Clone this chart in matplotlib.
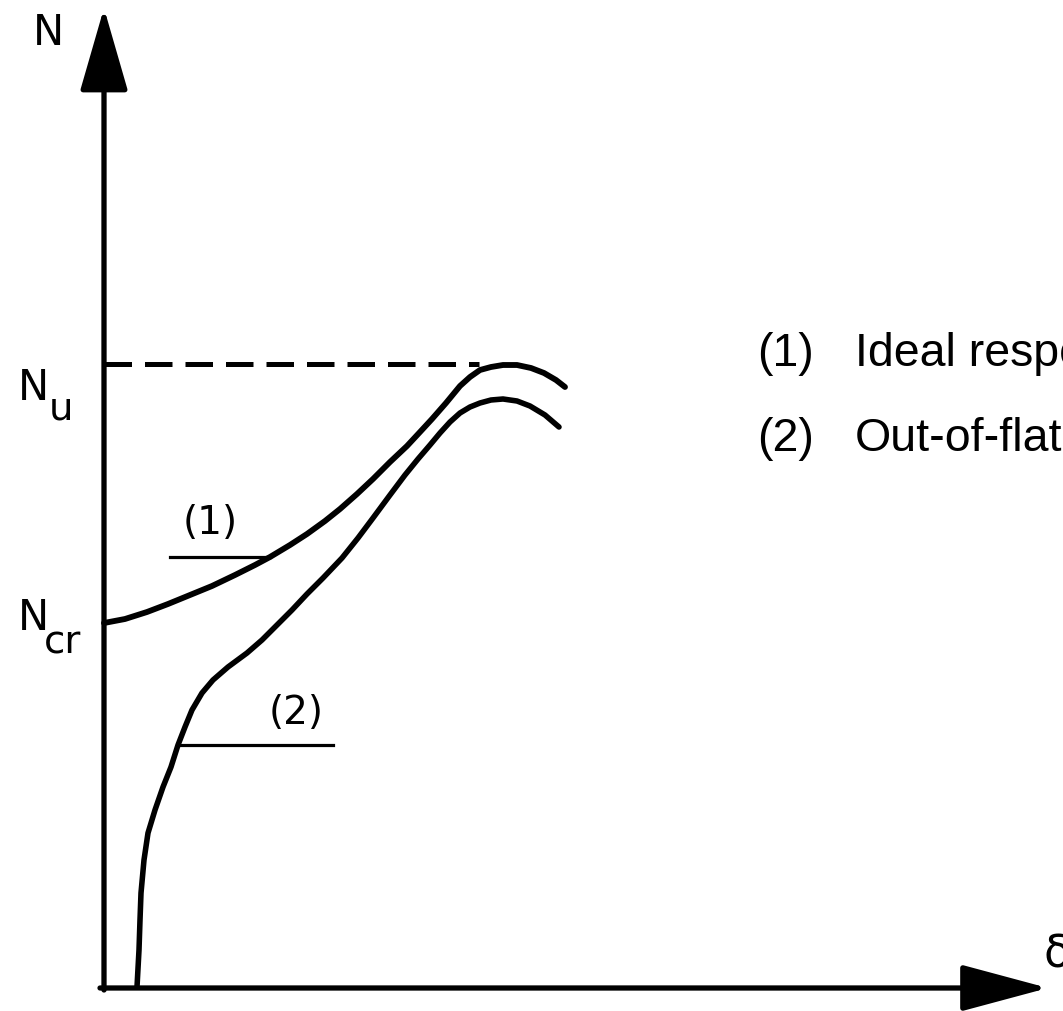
import matplotlib
matplotlib.use("Agg")
import matplotlib.pyplot as plt

# load-shortening sketch: axial load N against out-of-plane deflection delta
# coordinates are in drawing units with the origin at the axes corner
N_U = 624
N_CR = 365

ideal_delta = [0, 21, 43, 64, 86, 108, 131, 151, 166, 186, 203, 221, 236,
               253, 269, 286, 303, 316, 328, 342, 356, 366, 376, 387, 399,
               413, 427, 440, 452, 461]
ideal_n = [365, 369, 376, 384, 393, 402, 413, 423, 431, 443, 454, 467, 479,
           494, 509, 526, 542, 556, 569, 585, 602, 611, 618, 621, 623, 623,
           620, 615, 608, 601]

imperfect_delta = [33, 35, 36, 37, 40, 44, 51, 59, 67, 74, 81, 88, 98, 109,
                   124, 143, 158, 171, 188, 203, 219, 238, 254, 269, 286, 301,
                   314, 326, 336, 346, 356, 366, 376, 387, 399, 413, 426, 441,
                   455]
imperfect_n = [1, 38, 68, 95, 128, 155, 178, 201, 221, 243, 261, 278, 295,
               308, 321, 335, 348, 361, 378, 394, 410, 430, 450, 470, 493,
               513, 529, 543, 555, 566, 575, 581, 585, 588, 589, 587, 582,
               573, 561]

legend_items = ["(1)", "(2)"]
legend_texts = ["Ideal response", "Out-of-flatness"]

INK = "black"
sketch_font = "DejaVu Sans"
legend_font = "Liberation Sans"

fig = plt.figure(figsize=(10.63, 10.11), dpi=100)
ax = fig.add_axes([0, 0, 1, 1])
ax.set_xlim(-104, 959)
ax.set_ylim(-23, 988)
ax.axis("off")

# axes with filled arrowheads
ax.annotate("", xy=(0, 980), xytext=(0, -2),
            arrowprops=dict(arrowstyle="-|>,head_length=52,head_width=15",
                            mutation_scale=1, lw=3.8, color=INK,
                            shrinkA=0, shrinkB=0))
ax.annotate("", xy=(944, 0), xytext=(-4, 0),
            arrowprops=dict(arrowstyle="-|>,head_length=54,head_width=14.5",
                            mutation_scale=1, lw=3.8, color=INK,
                            shrinkA=0, shrinkB=0))

# ultimate load level
ax.plot([0, 375], [N_U, N_U], color=INK, lw=3.6, linestyle=(0, (5.5, 2.6)))

ax.plot(ideal_delta, ideal_n, color=INK, lw=4.2, solid_capstyle="round",
        solid_joinstyle="round")
ax.plot(imperfect_delta, imperfect_n, color=INK, lw=4.0,
        solid_capstyle="round", solid_joinstyle="round")

# leader lines for the curve labels
ax.plot([66, 166], [431, 431], color=INK, lw=2.3)
ax.plot([74, 229], [243, 243], color=INK, lw=2.3)
ax.text(106, 465, "(1)", fontsize=28, family=sketch_font, ha="center",
        va="center")
ax.text(192, 275, "(2)", fontsize=28, family=sketch_font, ha="center",
        va="center")

# axis labels
ax.text(-71, 943, "N", fontsize=30, family=sketch_font, va="baseline")
ax.text(-86, 588, "N", fontsize=30, family=sketch_font, va="baseline")
ax.text(-55, 568, "u", fontsize=28, family=sketch_font, va="baseline")
ax.text(-86, 358, "N", fontsize=30, family=sketch_font, va="baseline")
ax.text(-60, 335, "cr", fontsize=28, family=sketch_font, va="baseline")
ax.text(939, 21, "δ", fontsize=32, family=sketch_font, va="baseline")

# legend on the right
for i, (item, label) in enumerate(zip(legend_items, legend_texts)):
    y = 622 - i * 85
    ax.text(653, y, item, fontsize=33.5, family=legend_font, va="baseline")
    ax.text(751, y, label, fontsize=33.5, family=legend_font, va="baseline")

fig.savefig("out.png", dpi=100)
